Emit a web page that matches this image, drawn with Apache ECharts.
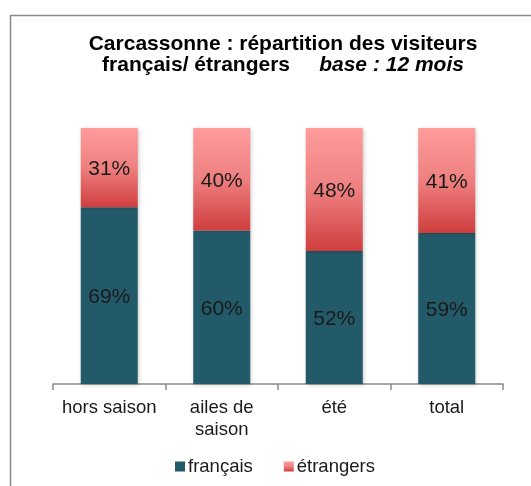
<!DOCTYPE html>
<html><head><meta charset="utf-8">
<script src="https://cdn.jsdelivr.net/npm/echarts@6/dist/echarts.min.js"></script>
<style>html,body{margin:0;padding:0;background:#fff}#c{width:531px;height:486px}</style>
</head><body><div id="c"></div>
<script>
const categories = ['hors saison', 'ailes de\nsaison', 'été', 'total'];
const francais = [69, 60, 52, 59];
const etrangers = [31, 40, 48, 41];
const titleLine1 = 'Carcassonne : répartition des visiteurs';
const titleLine2a = 'français/ étrangers';
const titleLine2b = 'base : 12 mois';

const FONT = '"Liberation Sans", Arial, sans-serif';
const chart = echarts.init(document.getElementById('c'), null, {renderer: 'canvas'});
const redGrad = new echarts.graphic.LinearGradient(0, 0, 0, 1, [
  {offset: 0, color: '#FF9C9C'},
  {offset: 0.5, color: '#EE7F7F'},
  {offset: 1, color: '#CF3E3E'}
]);
chart.setOption({
  animation: false,
  backgroundColor: '#fff',
  graphic: [
    {type: 'rect', left: 8, top: 13, shape: {x: 0, y: 0, width: 600, height: 600},
     style: {fill: 'none', stroke: '#8a8a8a', lineWidth: 1.5}, z: -1},
    {type: 'text', x: 283, y: 34,
     style: {
       text: '{b|' + titleLine1 + '}\n{b|' + titleLine2a + '}     {i|' + titleLine2b + '}',
       align: 'center',
       rich: {
         b: {fontFamily: FONT, fontWeight: 'bold', fontSize: 21, lineHeight: 20.5, fill: '#000'},
         i: {fontFamily: FONT, fontWeight: 'bold', fontStyle: 'italic', fontSize: 21, lineHeight: 20.5, fill: '#000'}
       },
       font: 'bold 21px ' + FONT
     }}
  ],
  grid: {left: 53, right: 28, top: 128, bottom: 102},
  xAxis: {
    type: 'category', data: categories,
    axisLine: {lineStyle: {color: '#8a8a8a', width: 1.5}},
    axisTick: {show: true, length: 6, lineStyle: {color: '#8a8a8a', width: 1.5}},
    axisLabel: {color: '#1a1a1a', fontSize: 18.5, fontFamily: FONT, lineHeight: 22, margin: 13, interval: 0}
  },
  yAxis: {type: 'value', min: 0, max: 100, show: false, splitLine: {show: false}},
  legend: {
    bottom: 5, left: 170,
    itemWidth: 10, itemHeight: 10, itemGap: 31, icon: 'rect',
    textStyle: {color: '#1a1a1a', fontSize: 18.5, fontFamily: FONT, padding: [0, 0, 0, -2]},
    data: ['français', 'étrangers']
  },
  series: [
    {name: 'français', type: 'bar', stack: 's', data: francais, barWidth: 57,
     itemStyle: {color: '#235A69', shadowBlur: 4, shadowColor: 'rgba(0,0,0,0.2)', shadowOffsetX: 1, shadowOffsetY: 1},
     label: {show: true, position: 'inside', offset: [0, 2], formatter: '{c}%', color: '#1a1a1a', fontSize: 21, fontFamily: FONT}},
    {name: 'étrangers', type: 'bar', stack: 's', data: etrangers, barWidth: 57,
     itemStyle: {color: redGrad, shadowBlur: 4, shadowColor: 'rgba(0,0,0,0.2)', shadowOffsetX: 1, shadowOffsetY: 1},
     label: {show: true, position: 'inside', offset: [0, 2], formatter: '{c}%', color: '#1a1a1a', fontSize: 21, fontFamily: FONT}}
  ]
});
</script></body></html>
